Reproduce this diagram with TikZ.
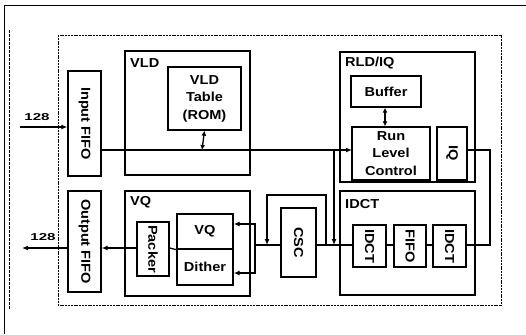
\documentclass[tikz,border=0pt]{standalone}
\usepackage{fontspec}
\setmainfont{Liberation Sans}[FakeStretch=1.12]
\usetikzlibrary{arrows.meta}
\begin{document}
\begin{tikzpicture}[x=1pt,y=-1pt,
  font=\bfseries\fontsize{13}{17.5}\selectfont,
  blk/.style={draw, line width=1.4pt, inner sep=0pt, align=center},
  grp/.style={draw, line width=1.4pt},
  chipbox/.style={draw, line width=0.9pt, dash pattern=on 2pt off 0.8pt},
  conn/.style={line width=1.3pt},
  tip/.style={-{Latex[length=6pt,width=5pt]}},
  dtip/.style={{Latex[length=5pt,width=5pt]}-{Latex[length=5pt,width=5pt]}},
  lbl/.style={anchor=west, inner sep=0pt},
  small/.style={font=\bfseries\fontsize{10}{12}\selectfont, inner sep=0pt}]
\useasboundingbox (0,0) rectangle (526,334);
% outer frame lines
\draw[line width=0.9pt] (4,334) -- (4,5) -- (526,5);
\draw[line width=0.8pt, dash pattern=on 3pt off 1pt] (9,30) -- (9,310);
% chip boundary
\draw[chipbox] (58,35) rectangle (501,305);
% group boxes
\draw[grp] (125,51) rectangle (250,175);
\node[lbl] (tVLD) at (130,63) {VLD};
\draw[grp] (340,52) rectangle (475,182);
\node[lbl] (tRLD) at (345,63) {RLD/IQ};
\draw[grp] (340,191) rectangle (475,295);
\node[lbl] (tIDCT) at (345,204) {IDCT};
\draw[grp] (125,191) rectangle (250,296);
\node[lbl] (tVQ) at (130,202) {VQ};
% blocks
\node[blk, minimum width=33pt, minimum height=105pt] (InFIFO) at (84.5,123.5) {};
\node[rotate=-90, inner sep=0pt] (tInFIFO) at (InFIFO.center) {Input FIFO};
\node[blk, minimum width=33pt, minimum height=101pt] (OutFIFO) at (84.5,241.5) {};
\node[rotate=-90, inner sep=0pt] (tOutFIFO) at (OutFIFO.center) {Output FIFO};
\node[blk, minimum width=73pt, minimum height=63pt] (ROM) at (204.5,98.5) {VLD\\Table\\(ROM)};
\node[blk, minimum width=70pt, minimum height=31pt] (Buffer) at (386,91.5) {Buffer};
\node[blk, minimum width=78pt, minimum height=53pt] (RLC) at (391,153.5) {Run\\Level\\Control};
\node[blk, minimum width=30pt, minimum height=53pt] (IQ) at (452,153.5) {};
\node[rotate=-90, inner sep=0pt] (tIQ) at (IQ.center) {IQ};
\node[blk, minimum width=33pt, minimum height=42pt] (IDCTa) at (369.5,246) {};
\node[rotate=-90, inner sep=0pt] (tIDCTa) at (IDCTa.center) {IDCT};
\node[blk, minimum width=32pt, minimum height=42pt] (FIFO) at (410,246) {};
\node[rotate=-90, inner sep=0pt] (tFIFO) at (FIFO.center) {FIFO};
\node[blk, minimum width=33pt, minimum height=42pt] (IDCTb) at (449.5,246) {};
\node[rotate=-90, inner sep=0pt] (tIDCTb) at (IDCTb.center) {IDCT};
\node[blk, minimum width=35pt, minimum height=69pt] (CSC) at (298.5,242.5) {};
\node[rotate=-90, inner sep=0pt] (tCSC) at (CSC.center) {CSC};
\node[blk, minimum width=32pt, minimum height=54pt] (Packer) at (153,249) {};
\node[rotate=-90, inner sep=0pt] (tPacker) at (Packer.center) {Packer};
\node[blk, minimum width=56pt, minimum height=35pt] (VQin) at (205,231.5) {VQ};
\node[blk, minimum width=56pt, minimum height=36pt] (Dither) at (205,267) {Dither};
% connector coordinates
\coordinate (inA) at (20,127);
\coordinate (outA) at (22,249);
\coordinate (busL) at (101,150);
\coordinate (busR) at (352,150);
\coordinate (romJ) at (202,150);
\coordinate (j1) at (334,150);
\coordinate (j1b) at (334,245);
\coordinate (q1) at (490,150);
\coordinate (q2) at (490,245);
\coordinate (b1) at (326,245);
\coordinate (b2) at (326,195);
\coordinate (b3) at (267,195);
\coordinate (b4) at (267,245);
\coordinate (v0) at (255,245);
\coordinate (v1) at (255,224);
\coordinate (v2) at (255,273);
% connectors
\draw[conn, tip] (inA) -- (InFIFO.west |- inA);
\node[small] (n128a) at (37,117) {\scalebox{1.35}[1]{128}};
\draw[conn, tip] (busL) -- (busR);
\draw[conn, dtip] (ROM.south) -- (romJ);
\draw[conn, dtip] (Buffer.south -| 385,0) -- (RLC.north -| 385,0);
\draw[conn, tip] (j1) -- (j1b);
\draw[conn] (IQ.east |- q1) -- (q1) -- (q2) -- (IDCTb.east |- q2);
\draw[conn] (IDCTb.west |- q2) -- (FIFO.east |- q2);
\draw[conn] (FIFO.west |- q2) -- (IDCTa.east |- q2);
\draw[conn] (IDCTa.west |- q2) -- (CSC.east |- q2);
\draw[conn, tip] (b1) -- (b2) -- (b3) -- (b4);
\draw[conn] (CSC.west |- v0) -- (v0);
\draw[conn, tip] (v0) -- (v1) -- (VQin.east |- v1);
\draw[conn, tip] (v0) -- (v2) -- (Dither.east |- v2);
\draw[conn] (Packer.east |- 0,248) -- (VQin.south west);
\draw[conn, tip] (Packer.west |- 0,248) -- (OutFIFO.east |- 0,248);
\draw[conn, tip] (OutFIFO.west |- 0,248) -- (outA |- 0,248);
\node[small] (n128b) at (43,237) {\scalebox{1.35}[1]{128}};
\end{tikzpicture}
\end{document}
